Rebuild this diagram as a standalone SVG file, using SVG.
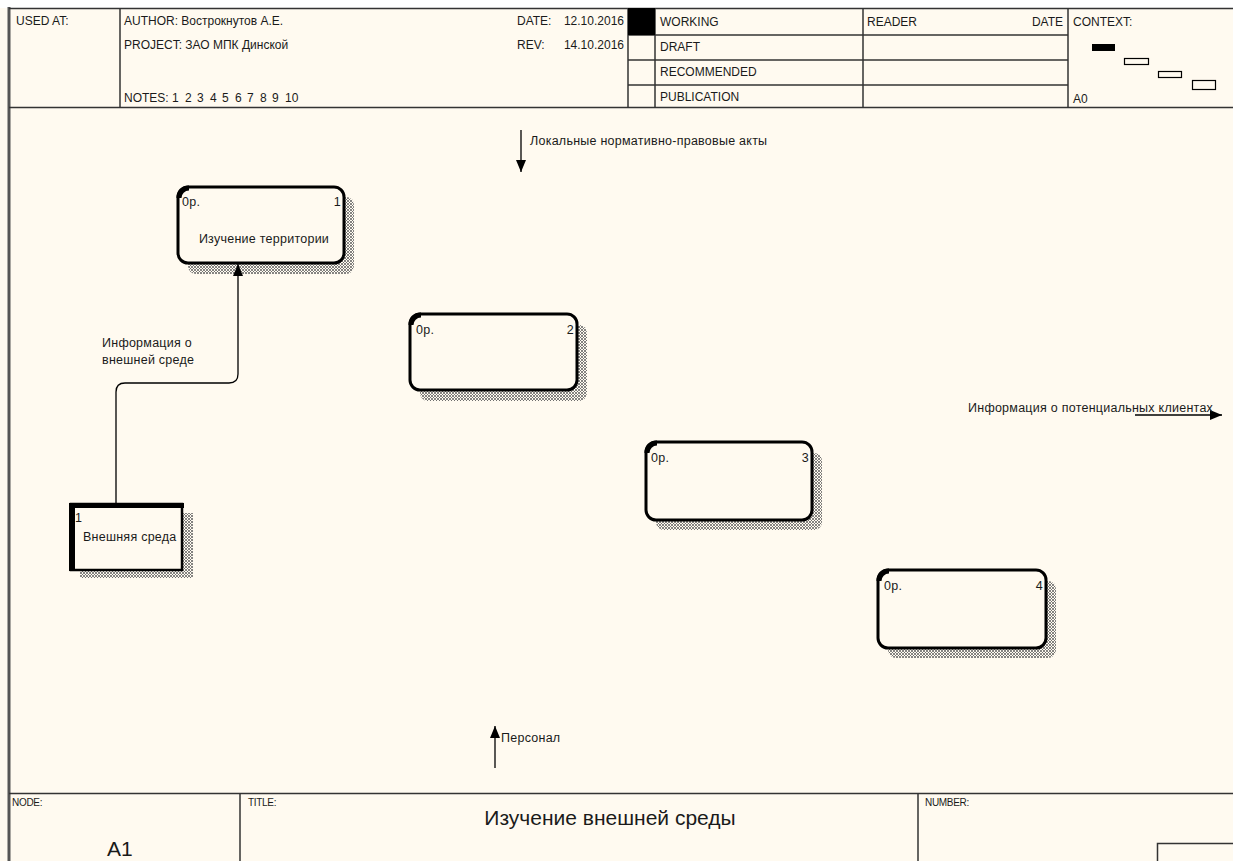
<svg xmlns="http://www.w3.org/2000/svg" width="1233" height="861" viewBox="0 0 1233 861">
<defs>
<style>
.t{font-family:"Liberation Sans",Arial,sans-serif;font-size:12.5px;letter-spacing:0.25px;fill:#1a1a1a}
.h{font-family:"Liberation Sans",Arial,sans-serif;font-size:12px;fill:#1a1a1a}
.s{font-family:"Liberation Sans",Arial,sans-serif;font-size:10px;fill:#1a1a1a;letter-spacing:-0.3px}
.big{font-family:"Liberation Sans",Arial,sans-serif;font-size:21px;fill:#1a1a1a}
.frame{stroke:#333;stroke-width:1.5;fill:none}
.box{fill:#fffaf0;stroke:#000;stroke-width:3}
.sh{fill:url(#hatch)}
.arr{fill:none;stroke:#000;stroke-width:1.3}
</style>
<pattern id="hatch" width="3" height="3" patternUnits="userSpaceOnUse">
<rect width="3" height="3" fill="#fffaf0"/>
<path d="M0,0 L3,3 M3,0 L0,3" stroke="#666" stroke-width="0.8"/>
</pattern>
<marker id="ah" viewBox="0 0 12 10" refX="12" refY="5" markerWidth="12" markerHeight="10" markerUnits="userSpaceOnUse" orient="auto">
<path d="M0,0 L12,5 L0,10 Z" fill="#000"/>
</marker>
</defs>
<rect x="0" y="0" width="1233" height="861" fill="#fffaf0"/>
<rect x="0" y="0" width="1233" height="8" fill="#ffffff"/>

<g id="frame">
<line x1="9" y1="7" x2="9" y2="861" stroke="#555" stroke-width="3"/>
<line x1="9" y1="8.5" x2="1233" y2="8.5" class="frame"/>
<line x1="9" y1="107.5" x2="1233" y2="107.5" class="frame"/>
<line x1="120" y1="8" x2="120" y2="108" class="frame"/>
<line x1="628" y1="8" x2="628" y2="108" class="frame"/>
<line x1="655" y1="8" x2="655" y2="108" class="frame"/>
<line x1="863" y1="8" x2="863" y2="108" class="frame"/>
<line x1="1068" y1="8" x2="1068" y2="108" class="frame"/>
<line x1="628" y1="35" x2="1068" y2="35" class="frame"/>
<line x1="628" y1="60" x2="1068" y2="60" class="frame"/>
<line x1="628" y1="85" x2="1068" y2="85" class="frame"/>
<rect x="628" y="8" width="27" height="27" fill="#000"/>
<text class="h" x="16" y="25">USED AT:</text>
<text class="h" x="124" y="25">AUTHOR:  Вострокнутов А.Е.</text>
<text class="h" x="124" y="49">PROJECT:  ЗАО МПК Динской</text>
<text class="h" x="124" y="102">NOTES:<tspan x="172">1</tspan><tspan x="185">2</tspan><tspan x="197">3</tspan><tspan x="210">4</tspan><tspan x="222">5</tspan><tspan x="235">6</tspan><tspan x="247">7</tspan><tspan x="260">8</tspan><tspan x="272">9</tspan><tspan x="285">10</tspan></text>
<text class="h" x="517" y="25">DATE:</text>
<text class="h" x="624" y="25" text-anchor="end">12.10.2016</text>
<text class="h" x="517" y="49">REV:</text>
<text class="h" x="624" y="49" text-anchor="end">14.10.2016</text>
<text class="h" x="660" y="26">WORKING</text>
<text class="h" x="660" y="51">DRAFT</text>
<text class="h" x="660" y="76">RECOMMENDED</text>
<text class="h" x="660" y="101">PUBLICATION</text>
<text class="h" x="867" y="26">READER</text>
<text class="h" x="1063" y="26" text-anchor="end">DATE</text>
<text class="h" x="1073" y="26">CONTEXT:</text>
<text class="h" x="1073" y="103">A0</text>
<rect x="1092" y="44" width="23" height="7" fill="#000"/>
<rect x="1124.5" y="58.5" width="24" height="6" fill="none" stroke="#000" stroke-width="1.2"/>
<rect x="1158.5" y="71.5" width="23" height="6" fill="none" stroke="#000" stroke-width="1.2"/>
<rect x="1192.5" y="80.5" width="23" height="9" fill="none" stroke="#000" stroke-width="1.2"/>
<line x1="9" y1="793.5" x2="1233" y2="793.5" class="frame"/>
<line x1="240" y1="793" x2="240" y2="861" class="frame"/>
<line x1="918" y1="793" x2="918" y2="861" class="frame"/>
<rect x="1157.5" y="843.5" width="80" height="30" class="frame"/>
<text class="s" x="12" y="806">NODE:</text>
<text class="s" x="248" y="806">TITLE:</text>
<text class="s" x="925" y="806">NUMBER:</text>
<text class="big" x="610" y="825" text-anchor="middle">Изучение внешней среды</text>
<text class="big" x="107" y="856">A1</text>
</g>

<g id="node1">
<rect class="sh" x="188" y="197" width="166" height="77" rx="8"/>
<rect class="box" x="178" y="187" width="166" height="76" rx="10"/>
<path d="M179,198 A10,10 0 0 1 189,188" fill="none" stroke="#000" stroke-width="5"/>
<text class="t" x="182" y="206">0р.</text>
<text class="t" x="341" y="206" text-anchor="end">1</text>
<text class="t" x="264" y="243" text-anchor="middle">Изучение территории</text>
</g>

<g id="node2">
<rect class="sh" x="420" y="325" width="167" height="76" rx="8"/>
<rect class="box" x="410" y="314" width="167" height="76" rx="10"/>
<path d="M411,325 A10,10 0 0 1 421,315" fill="none" stroke="#000" stroke-width="5"/>
<text class="t" x="416" y="334">0р.</text>
<text class="t" x="574" y="334" text-anchor="end">2</text>
</g>

<g id="node3">
<rect class="sh" x="656" y="453" width="166" height="77" rx="8"/>
<rect class="box" x="646" y="442" width="166" height="78" rx="10"/>
<path d="M647,453 A10,10 0 0 1 657,443" fill="none" stroke="#000" stroke-width="5"/>
<text class="t" x="651" y="462">0р.</text>
<text class="t" x="809" y="462" text-anchor="end">3</text>
</g>

<g id="node4">
<rect class="sh" x="888" y="581" width="168" height="77" rx="8"/>
<rect class="box" x="878" y="570" width="168" height="78" rx="10"/>
<path d="M879,581 A10,10 0 0 1 889,571" fill="none" stroke="#000" stroke-width="5"/>
<text class="t" x="884" y="590">0р.</text>
<text class="t" x="1043" y="590" text-anchor="end">4</text>
</g>

<g id="external1">
<rect class="sh" x="80" y="513" width="113" height="65"/>
<rect x="71" y="504" width="111" height="66" fill="#fffaf0" stroke="#000" stroke-width="2.5"/>
<line x1="69" y1="505.5" x2="184" y2="505.5" stroke="#000" stroke-width="5"/>
<line x1="72" y1="503" x2="72" y2="571" stroke="#000" stroke-width="6"/>
<text class="t" x="75" y="522">1</text>
<text class="t" x="83" y="541">Внешняя среда</text>
</g>

<g id="connectors">
<path class="arr" d="M116,503 V392 Q116,383 125,383 H229 Q238,383 238,374 V264" marker-end="url(#ah)"/>
<text class="t" x="102" y="347">Информация о</text>
<text class="t" x="102" y="364">внешней среде</text>
<path class="arr" d="M521,130 V172" marker-end="url(#ah)"/>
<text class="t" x="530" y="145">Локальные нормативно-правовые акты</text>
<path class="arr" d="M495,768 V726" marker-end="url(#ah)"/>
<text class="t" x="501" y="742">Персонал</text>
<path class="arr" d="M1135,415 H1222" marker-end="url(#ah)"/>
<text class="t" x="968" y="412">Информация о потенциальных клиентах</text>
</g>
</svg>
